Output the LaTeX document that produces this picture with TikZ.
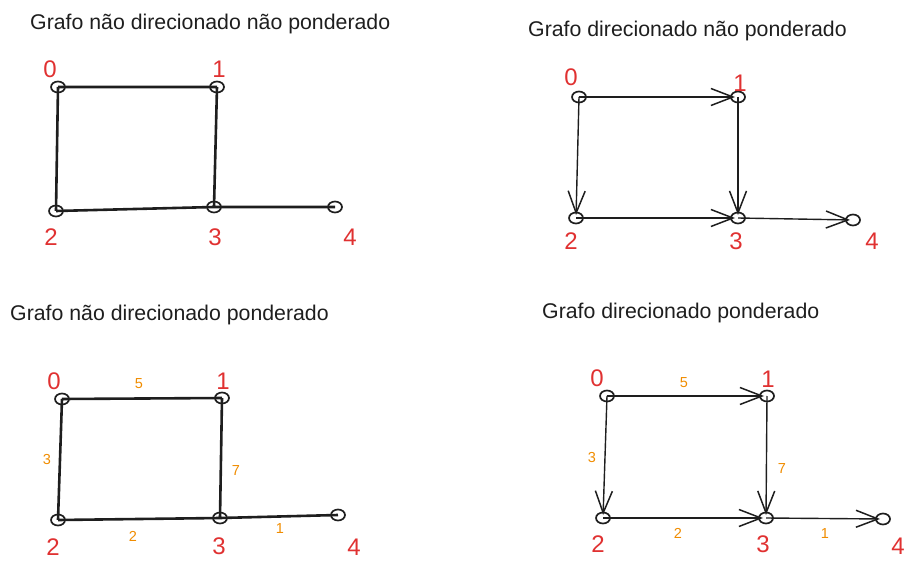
\documentclass[tikz,border=0pt]{standalone}
\usepackage{fontspec}
\setmainfont{Liberation Sans}
\usetikzlibrary{shapes.geometric,arrows.meta}
\definecolor{ink}{HTML}{1E1E1E}
\definecolor{vred}{HTML}{E03131}
\definecolor{wgt}{HTML}{F08C00}
\begin{document}
\begin{tikzpicture}[x=1pt,y=-1pt,
  vtx/.style={draw=ink,line width=1.7pt,ellipse,minimum width=14pt,minimum height=11pt,inner sep=0pt},
  num/.style={text=vred,font=\fontsize{24}{24}\selectfont,anchor=base,inner sep=0pt},
  wnum/.style={text=wgt,font=\fontsize{14.5}{15}\selectfont,anchor=base,inner sep=0pt},
  ttl/.style={text=ink,font=\fontsize{21.3}{22}\selectfont,anchor=base west,inner sep=0pt},
  und/.style={draw=ink,line width=2.6pt},
  dir/.style={draw=ink,line width=1.4pt,shorten >=3pt,-{Straight Barb[length=22pt,width=17pt,line width=1.5pt]}}]
  \useasboundingbox (0,0) rectangle (921,580);
  \begin{scope}
    \node[ttl] (t1) at (30,30) {Grafo não direcionado não ponderado};
    \node[vtx] (a0) at (58,87) {};  \node[vtx] (a1) at (217,87) {};
    \node[vtx] (a2) at (56,211) {}; \node[vtx] (a3) at (214,207) {};
    \node[vtx] (a4) at (335,207) {};
    \draw[und] (a0.center)--(a1.center) (a0.center)--(a2.center) (a1.center)--(a3.center)
               (a2.center)--(a3.center) (a3.center)--(a4.center);
    \node[num] (a0l) at (50,78) {0};  \node[num] (a1l) at (219,78) {1};
    \node[num] (a2l) at (51,245) {2}; \node[num] (a3l) at (215,245) {3};
    \node[num] (a4l) at (350,245) {4};
  \end{scope}
  \begin{scope}
    \node[ttl] (t2) at (528,37) {Grafo direcionado não ponderado};
    \node[vtx] (b0) at (579,97) {};  \node[vtx] (b1) at (738,97) {};
    \node[vtx] (b2) at (576,218) {}; \node[vtx] (b3) at (738,218) {};
    \node[vtx] (b4) at (853,220) {};
    \draw[dir] (b0.center)--(b1.center);
    \draw[dir] (b0.center)--(b2.center);
    \draw[dir] (b1.center)--(b3.center);
    \draw[dir] (b2.center)--(b3.center);
    \draw[dir] (b3.center)--(b4.center);
    \node[num] (b0l) at (571,86) {0};  \node[num] (b1l) at (740,92) {1};
    \node[num] (b2l) at (571,250) {2}; \node[num] (b3l) at (736,250) {3};
    \node[num] (b4l) at (872,249) {4};
  \end{scope}
  \begin{scope}
    \node[ttl] (t3) at (10,320) {Grafo não direcionado ponderado};
    \node[vtx] (c0) at (62,399) {};  \node[vtx] (c1) at (222,398) {};
    \node[vtx] (c2) at (58,520) {};  \node[vtx] (c3) at (220,518) {};
    \node[vtx] (c4) at (338,515) {};
    \draw[und] (c0.center)--(c1.center) (c0.center)--(c2.center) (c1.center)--(c3.center)
               (c2.center)--(c3.center) (c3.center)--(c4.center);
    \node[num] (c0l) at (54,389) {0};  \node[num] (c1l) at (223,389) {1};
    \node[num] (c2l) at (53,555) {2};  \node[num] (c3l) at (219,554) {3};
    \node[num] (c4l) at (354,555) {4};
    \node[wnum] (c01) at (139,388) {5}; \node[wnum] (c02) at (47,464) {3};
    \node[wnum] (c13) at (236,475) {7}; \node[wnum] (c23) at (133,541) {2};
    \node[wnum] (c34) at (280,533) {1};
  \end{scope}
  \begin{scope}
    \node[ttl] (t4) at (542,318) {Grafo direcionado ponderado};
    \node[vtx] (d0) at (607,396) {};  \node[vtx] (d1) at (767,396) {};
    \node[vtx] (d2) at (603,518) {};  \node[vtx] (d3) at (766,518) {};
    \node[vtx] (d4) at (883,519) {};
    \draw[dir] (d0.center)--(d1.center);
    \draw[dir] (d0.center)--(d2.center);
    \draw[dir] (d1.center)--(d3.center);
    \draw[dir] (d2.center)--(d3.center);
    \draw[dir] (d3.center)--(d4.center);
    \node[num] (d0l) at (597,386) {0};  \node[num] (d1l) at (768,387) {1};
    \node[num] (d2l) at (598,552) {2};  \node[num] (d3l) at (763,552) {3};
    \node[num] (d4l) at (898,554) {4};
    \node[wnum] (d01) at (684,387) {5}; \node[wnum] (d02) at (592,462) {3};
    \node[wnum] (d13) at (782,473) {7}; \node[wnum] (d23) at (678,538) {2};
    \node[wnum] (d34) at (825,538) {1};
  \end{scope}
\end{tikzpicture}
\end{document}
